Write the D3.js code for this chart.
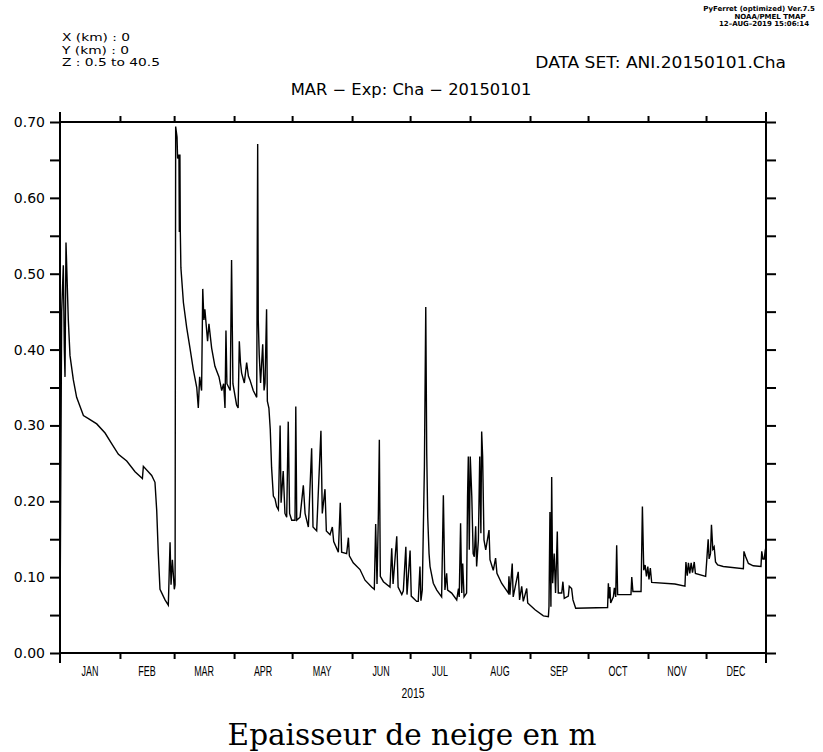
<!DOCTYPE html>
<html><head><meta charset="utf-8">
<script src="https://cdn.jsdelivr.net/npm/d3@7"></script>
<style>body{margin:0;background:#fff}</style>
</head><body><svg id="c" width="823" height="752"></svg>
<script>
// ---- data ----
const monthNames = ["JAN","FEB","MAR","APR","MAY","JUN","JUL","AUG","SEP","OCT","NOV","DEC"];
const monthStarts = [0,31,59,90,120,151,181,212,243,273,304,334,365];
const yMajorTicks = [0.0,0.1,0.2,0.3,0.4,0.5,0.6,0.7];
const yMinorTicks = [0.05,0.15,0.25,0.35,0.45,0.55,0.65];
const yearLabel = "2015";

// day of year (fractional) and snow depth (m)
const days = [0,0.86,1.72,2.24,2.59,3.1,4.3,5.17,6.9,8.6,12.1,14.7,19.0,23.3,26.7,30.2,34.5,38.8,42.6,43.1,47.4,49.1,50.0,50.8,51.7,54.3,56.0,56.9,57.4,58.1,59.1,59.5,59.8,
60.5,60.8,61.5,61.7,62.0,62.2,62.5,63.8,65.5,67.2,68.9,70.7,71.5,72.2,73.2,73.8,74.4,74.9,76.3,77.0,78.4,80.1,82.2,83.6,84.6,85.3,85.8,86.3,88.0,88.7,89.4,91.3,92.1,92.7,93.3,93.9,95.3,96.5,97.4,98.2,99.9,101.7,
102.2,102.5,103.0,103.7,104.8,105.5,106.0,106.8,107.2,108.0,108.7,109.4,110.3,111.2,112.0,112.9,113.8,114.3,115.4,116.3,117.2,118.0,118.7,119.8,121.5,121.9,122.4,124.1,125.8,126.7,128.4,130.1,130.8,132.7,134.9,135.6,137.0,137.7,139.6,140.8,141.5,143.9,144.9,145.6,148.2,149.1,149.6,151.6,155.1,157.7,161.1,162.5,163.2,163.9,164.6,165.1,165.6,167.2,170.6,171.5,172.2,174.1,174.8,176.7,177.5,178.8,179.4,181.0,181.6,184.4,185.2,186.1,186.6,187.3,188.4,189.1,189.6,190.1,190.8,191.3,193.0,194.8,197.3,198.2,199.0,199.9,200.4,202.5,205.1,206.0,206.4,207.1,207.7,208.2,208.9,210.2,210.7,211.1,211.6,212.1,212.9,213.6,214.2,214.9,215.4,216.3,217.0,217.6,218.0,218.5,219.2,220.1,221.8,222.3,224.0,225.2,225.9,228.3,231.8,232.1,232.6,233.8,234.3,236.9,237.6,238.7,239.5,241.3,241.8,245.6,249.9,252.5,252.8,253.3,253.8,254.2,254.7,255.5,256.2,257.1,257.6,259.4,260.0,260.7,262.8,263.3,264.5,265.2,266.6,
283.1,283.5,283.9,284.3,284.7,286.1,286.6,287.3,287.8,288.3,295.2,295.6,296.2,300.4,301.1,301.8,302.5,303.2,303.9,304.5,305.2,305.9,317.9,323.1,323.6,324.3,324.9,325.6,326.3,327.0,327.9,328.5,333.8,334.5,335.1,335.6,336.3,336.8,337.5,338.2,338.9,340.0,342.9,353.3,353.6,354.5,355.9,358.4,362.4,362.8,363.4,364.1,364.6,365];
const snowDepth = [0.032,0.45,0.511,0.40,0.364,0.541,0.439,0.392,0.360,0.337,0.313,0.309,0.302,0.290,0.276,0.262,0.253,0.239,0.230,0.246,0.234,0.225,0.188,0.132,0.084,0.070,0.063,0.146,0.09,0.123,0.084,0.09,0.694,
0.68,0.652,0.657,0.555,0.657,0.555,0.508,0.462,0.429,0.402,0.374,0.350,0.323,0.364,0.346,0.480,0.439,0.453,0.411,0.434,0.402,0.378,0.364,0.346,0.355,0.323,0.425,0.355,0.346,0.518,0.355,0.327,0.323,0.411,0.383,0.369,0.356,0.383,0.365,0.360,0.346,0.337,
0.671,0.439,0.393,0.356,0.407,0.346,0.356,0.453,0.332,0.323,0.295,0.244,0.207,0.203,0.193,0.189,0.300,0.198,0.240,0.184,0.179,0.305,0.184,0.175,0.175,0.325,0.175,0.179,0.221,0.184,0.166,0.270,0.166,0.161,0.293,0.184,0.216,0.161,0.156,0.166,0.147,0.133,0.198,0.133,0.131,0.152,0.128,0.119,0.110,0.096,0.087,0.084,0.170,0.091,0.184,0.281,0.101,0.094,0.087,0.138,0.091,0.154,0.087,0.077,0.082,0.140,0.077,0.135,0.075,0.068,0.068,0.114,0.069,0.083,0.246,0.456,0.263,0.180,0.131,0.114,0.092,0.083,0.074,0.208,0.083,0.105,0.083,0.079,0.070,0.085,0.074,0.171,0.079,0.118,0.074,0.079,0.206,0.259,0.136,0.259,0.206,0.131,0.127,0.167,0.114,0.149,0.259,0.158,0.292,0.259,0.149,0.136,0.162,0.123,0.109,0.125,0.105,0.092,0.079,0.101,0.077,0.118,0.074,0.107,0.070,0.088,0.068,0.085,0.066,0.057,0.049,0.048,0.061,0.186,0.061,0.232,0.092,0.131,0.079,0.160,0.079,0.079,0.094,0.072,0.075,0.088,0.085,0.070,0.059,
0.060,0.092,0.072,0.087,0.066,0.074,0.086,0.074,0.142,0.077,0.077,0.100,0.081,0.081,0.193,0.109,0.116,0.101,0.114,0.097,0.112,0.093,0.091,0.088,0.120,0.102,0.119,0.105,0.119,0.106,0.120,0.105,0.101,0.127,0.150,0.124,0.131,0.169,0.137,0.140,0.120,0.116,0.114,0.111,0.134,0.127,0.118,0.115,0.114,0.134,0.124,0.124,0.135,0.14];

// ---- drawing ----
const svg = d3.select("#c");
const L = 60, R = 766, T = 122, B = 653;
const x = d3.scaleLinear().domain([0, 365]).range([L, R]);
const y = d3.scaleLinear().domain([0, 0.7]).range([B, T]);
const sans = "DejaVu Sans, Liberation Sans, sans-serif";
const narrow = "Liberation Sans, Arial, sans-serif";

const allY = yMajorTicks.concat(yMinorTicks).sort((a,b)=>a-b);
const isMajor = v => yMajorTicks.some(m => Math.abs(m - v) < 1e-9);

// left axis
const gl = svg.append("g").attr("transform", `translate(${L},0)`)
  .call(d3.axisLeft(y).tickValues(allY).tickSize(10).tickPadding(5)
    .tickFormat(d => isMajor(d) ? d3.format(".2f")(d) : ""));
// right axis
const gr = svg.append("g").attr("transform", `translate(${R},0)`)
  .call(d3.axisRight(y).tickValues(allY).tickSize(10).tickFormat(""));
// bottom & top axes (month boundaries)
const gb = svg.append("g").attr("transform", `translate(0,${B})`)
  .call(d3.axisBottom(x).tickValues(monthStarts.slice(1, -1)).tickSize(6).tickFormat(""));
const gt = svg.append("g").attr("transform", `translate(0,${T})`)
  .call(d3.axisTop(x).tickValues(monthStarts.slice(1, -1)).tickSize(6).tickFormat(""));
[gl, gr, gb, gt].forEach(g => {
  g.select(".domain").remove();
  g.selectAll(".tick line").attr("stroke", "#000").attr("stroke-width", 2);
});
gl.selectAll(".tick text").attr("font-family", sans).attr("font-size", 14).attr("fill", "#000");

// frame (vertical edges extend beyond the plot like the original)
const frame = svg.append("g").attr("stroke", "#000").attr("stroke-width", 2);
frame.append("line").attr("x1", L).attr("x2", L).attr("y1", T - 10).attr("y2", B + 10);
frame.append("line").attr("x1", R).attr("x2", R).attr("y1", T - 10).attr("y2", B + 10);
frame.append("line").attr("x1", L).attr("x2", R).attr("y1", T).attr("y2", T);
frame.append("line").attr("x1", L).attr("x2", R).attr("y1", B).attr("y2", B);

// month labels
svg.append("g").selectAll("text").data(monthNames).join("text")
  .attr("transform", (d, i) => `translate(${x((monthStarts[i] + monthStarts[i + 1]) / 2)},676) scale(0.64,1)`)
  .attr("text-anchor", "middle").attr("font-family", narrow).attr("font-size", 14)
  .text(d => d);
svg.append("text").attr("transform", `translate(${(L + R) / 2},698) scale(0.74,1)`)
  .attr("text-anchor", "middle").attr("font-family", narrow).attr("font-size", 14).text(yearLabel);

// data line
const pts = days.map((d, i) => [d, snowDepth[i]]);
svg.append("path").datum(pts)
  .attr("fill", "none").attr("stroke", "#000").attr("stroke-width", 1.4).attr("stroke-linejoin", "miter")
  .attr("d", d3.line().x(d => x(d[0])).y(d => y(d[1])));

// header texts
const hdr = svg.append("g").attr("font-family", sans).attr("fill", "#000");
["X (km) : 0", "Y (km) : 0", "Z : 0.5 to 40.5"].forEach((t, i) => {
  hdr.append("text").attr("transform", `translate(62,${41 + i * 12.5}) scale(1.3,1)`)
    .attr("font-size", 10.6).text(t);
});
hdr.append("text").attr("transform", "translate(786,68) scale(1.1,1)").attr("font-size", 15.5)
  .attr("text-anchor", "end").text("DATA SET: ANI.20150101.Cha");
hdr.append("text").attr("transform", "translate(411,95) scale(1.09,1)").attr("font-size", 15)
  .attr("text-anchor", "middle").text("MAR \u2212 Exp: Cha \u2212 20150101");
const sm = svg.append("g").attr("font-family", sans).attr("font-weight", "bold").attr("font-size", 7).attr("text-anchor", "middle");
sm.append("text").attr("x", 759).attr("y", 11).text("PyFerret (optimized) Ver.7.5");
sm.append("text").attr("x", 770).attr("y", 18.5).text("NOAA/PMEL TMAP");
sm.append("text").attr("x", 764).attr("y", 26).text("12\u2013AUG\u20132019 15:06:14");

// bottom caption
svg.append("text").attr("x", 412).attr("y", 745).attr("text-anchor", "middle")
  .attr("font-family", "DejaVu Serif, Liberation Serif, serif").attr("font-size", 29.5)
  .text("Epaisseur de neige en m");
</script></body></html>
